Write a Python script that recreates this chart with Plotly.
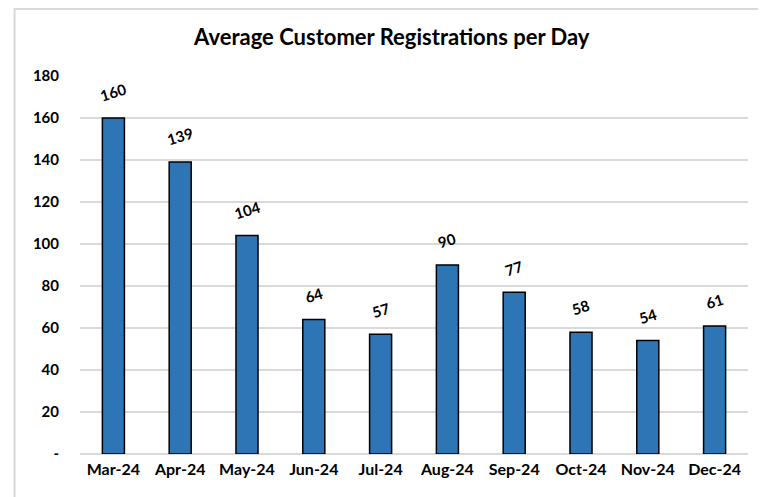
import plotly.graph_objects as go

months = ['Mar-24', 'Apr-24', 'May-24', 'Jun-24', 'Jul-24',
          'Aug-24', 'Sep-24', 'Oct-24', 'Nov-24', 'Dec-24']
registrations = [160, 139, 104, 64, 57, 90, 77, 58, 54, 61]
y_ticks = [0, 20, 40, 60, 80, 100, 120, 140, 160, 180]
y_tick_text = ['-', '20', '40', '60', '80', '100', '120', '140', '160', '180']

FONT = 'Lato'

fig = go.Figure(go.Bar(
    x=months, y=registrations,
    marker=dict(color='#2E75B6', line=dict(color='black', width=1.5)),
    hoverinfo='x+y',
))

# value labels, tilted like the original
for m, v in zip(months, registrations):
    fig.add_annotation(
        x=m, y=v, text=f'<b>{v}</b>', showarrow=False,
        textangle=-17, yanchor='bottom', yshift=11,
        font=dict(family=FONT, size=15, color='black'),
    )

# light grey frame around the chart area
fig.add_shape(
    type='rect', xref='paper', yref='paper',
    x0=-0.098, x1=1.1, y0=-0.3, y1=1.177,
    line=dict(color='#d9d9d9', width=2), layer='below',
)

fig.update_layout(
    width=766, height=497,
    margin=dict(l=72, r=26, t=68, b=51),
    paper_bgcolor='white', plot_bgcolor='white',
    bargap=0.67,
    showlegend=False,
    title=dict(text='<b>Average Customer Registrations per Day</b>',
               x=0.501, xanchor='center', y=0.942, yanchor='middle',
               font=dict(family=FONT, size=22, color='black')),
    xaxis=dict(showgrid=False, showline=False, ticks='',
               tickvals=months, ticktext=[f'<b>{m}</b>' for m in months],
               tickfont=dict(family=FONT, size=16, color='black'),
               ticklabelstandoff=4),
    yaxis=dict(range=[0, 180], tickvals=y_ticks,
               ticktext=[f'<b>{t}</b>' for t in y_tick_text],
               showgrid=True, gridcolor='#d9d9d9', gridwidth=2,
               zeroline=True, zerolinecolor='#d9d9d9', zerolinewidth=2,
               tickfont=dict(family=FONT, size=15, color='black'),
               ticklabelstandoff=20),
)

fig.write_html('out.html')
